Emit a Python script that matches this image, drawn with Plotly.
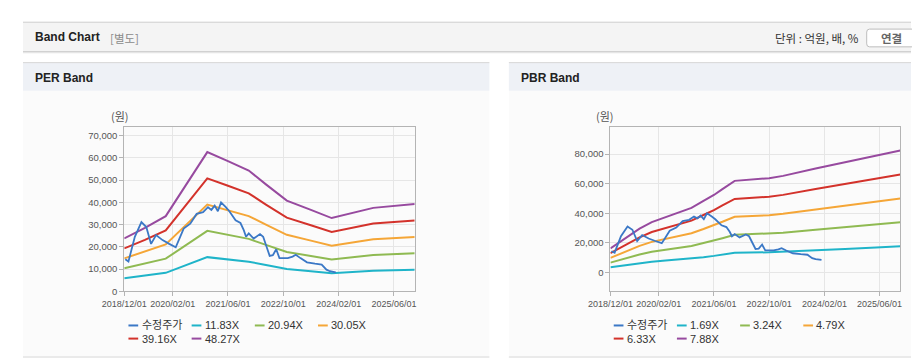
import plotly.graph_objects as go

# ---------------- data ----------------
price_name = "수정주가"
price_dates = ["2018-12-10", "2019-01-07", "2019-03-04", "2019-05-01", "2019-06-13", "2019-07-25",
               "2019-09-07", "2019-11-03", "2020-01-01", "2020-02-27", "2020-03-25", "2020-05-07",
               "2020-07-04", "2020-08-29", "2020-10-25", "2020-12-07", "2021-01-06", "2021-02-04",
               "2021-03-04", "2021-04-01", "2021-05-13", "2021-06-13", "2021-08-07", "2021-09-19",
               "2021-10-18", "2021-11-07", "2021-12-01", "2022-01-13", "2022-03-10", "2022-04-07",
               "2022-05-06", "2022-06-03", "2022-07-01", "2022-07-31", "2022-08-28", "2022-11-10",
               "2022-12-22", "2023-01-19", "2023-03-01", "2023-04-28", "2023-07-07", "2023-09-04",
               "2023-10-16", "2023-11-15", "2024-01-06"]
price_values = [14400, 13400, 24500, 31100, 28900, 21300,
                25300, 23000, 21300, 19800, 23000, 28200,
                30400, 34800, 35600, 37800, 36600, 38500,
                36000, 40000, 37800, 36000, 31900, 30700,
                27500, 24500, 26000, 23700, 25700, 24500,
                20100, 15900, 16200, 18900, 14900, 14900,
                15600, 16400, 14900, 13000, 12400, 12000,
                9700, 9000, 8500]

per_dates = ["2018-12-01", "2019-06-01", "2019-12-01", "2020-12-01", "2021-06-01", "2021-12-01",
             "2022-05-01", "2022-11-01", "2023-06-01", "2023-12-01", "2024-12-01", "2025-12-01"]
per_names = ["11.83X", "20.94X", "30.05X", "39.16X", "48.27X"]
per_band_1 = [5820, 6980, 8281, 15344, 14338, 13309, 11783, 9996, 8967, 8068, 9192, 9630]
per_band_2 = [10302, 12355, 14658, 27159, 25379, 23558, 20856, 17694, 15873, 14281, 16270, 17045]
per_band_3 = [14785, 17730, 21035, 38975, 36421, 33806, 29930, 25392, 22778, 20494, 23349, 24461]
per_band_4 = [19267, 23104, 27412, 50791, 47462, 44055, 39003, 33090, 29683, 26707, 30427, 31876]
per_band_5 = [23749, 28479, 33789, 62606, 58503, 54304, 48077, 40788, 36589, 32920, 37506, 39292]

pbr_dates = ["2018-12-01", "2019-05-01", "2019-08-15", "2019-12-01", "2020-04-01", "2020-07-01",
             "2020-11-15", "2021-03-01", "2021-06-01", "2021-08-15", "2021-12-01", "2022-10-01",
             "2023-02-01", "2023-11-15", "2024-08-01", "2025-05-01", "2025-12-01"]
pbr_names = ["1.69X", "3.24X", "4.79X", "6.33X", "7.88X"]
pbr_band_1 = [3481, 5205, 6354, 7301, 8049, 8585, 9363, 10377, 11239, 12095, 13283, 13672, 14010, 15075, 15954, 16871, 17677]
pbr_band_2 = [6674, 9979, 12182, 13997, 15432, 16459, 17950, 19894, 21546, 23189, 25466, 26212, 26860, 28901, 30586, 32345, 33890]
pbr_band_3 = [9867, 14753, 18010, 20693, 22815, 24333, 26537, 29411, 31854, 34282, 37649, 38751, 39709, 42727, 45218, 47819, 50103]
pbr_band_4 = [13040, 19496, 23801, 27346, 30150, 32156, 35068, 38866, 42095, 45304, 49754, 51210, 52476, 56464, 59755, 63192, 66212]
pbr_band_5 = [16233, 24270, 29629, 34042, 37532, 40030, 43655, 48383, 52402, 56397, 61937, 63749, 65325, 70290, 74387, 78666, 82425]

tick_dates = ["2018-12-01", "2020-02-01", "2021-06-01", "2022-10-01", "2024-02-01", "2025-06-01"]
tick_labels = ["2018/12/01", "2020/02/01", "2021/06/01", "2022/10/01", "2024/02/01", "2025/06/01"]
x_range = ["2018-12-01", "2025-12-01"]

price_color = "#3b78c6"
band_colors = ["#1fb4c9", "#8fba52", "#f5a637", "#d3322b", "#974a9f"]

# ---------------- layout helpers ----------------
W, H = 912, 364
FONT = "Liberation Sans, Arial, Noto Sans CJK KR, sans-serif"
KFONT = "Noto Sans CJK KR, Liberation Sans, sans-serif"


def px(x):
    return x / W


def py(y):
    return 1 - y / H


fig = go.Figure()

per_bands = [per_band_1, per_band_2, per_band_3, per_band_4, per_band_5]
pbr_bands = [pbr_band_1, pbr_band_2, pbr_band_3, pbr_band_4, pbr_band_5]

for axes, dates, bands, names in [(("x", "y"), per_dates, per_bands, per_names),
                                  (("x2", "y2"), pbr_dates, pbr_bands, pbr_names)]:
    for vals, nm, col in zip(bands, names, band_colors):
        fig.add_trace(go.Scatter(x=dates, y=vals, name=nm, mode="lines",
                                 line=dict(color=col, width=2), xaxis=axes[0], yaxis=axes[1],
                                 showlegend=False))
    fig.add_trace(go.Scatter(x=price_dates, y=price_values, name=price_name, mode="lines",
                             line=dict(color=price_color, width=1.8), xaxis=axes[0], yaxis=axes[1],
                             showlegend=False))

ydom = [py(295.3), py(128.3)]
axis_common = dict(showgrid=True, gridcolor="#e6e6e6", gridwidth=1, showline=True,
                   linecolor="#b4b4b4", linewidth=1, mirror=True, ticks="outside", ticklen=4,
                   tickcolor="#b4b4b4", zeroline=False)
xcommon = dict(axis_common, type="date", range=x_range, tickmode="array", tickvals=tick_dates,
               ticktext=tick_labels, tickfont=dict(family=FONT, size=9, color="#555555"))
ycommon = dict(axis_common, tickformat=",d", tickfont=dict(family=FONT, size=9.5, color="#555555"))

fig.update_layout(
    width=W, height=H, autosize=False,
    margin=dict(l=0, r=0, t=0, b=0),
    paper_bgcolor="#ffffff", plot_bgcolor="#ffffff",
    showlegend=False,
    xaxis=dict(xcommon, domain=[px(104), px(402.3)], anchor="y"),
    yaxis=dict(ycommon, domain=ydom, range=[0, 74100], dtick=10000, anchor="x"),
    xaxis2=dict(xcommon, domain=[px(603.3), px(901)], anchor="y2"),
    yaxis2=dict(ycommon, domain=ydom, range=[-12670, 98670], tick0=0, dtick=20000, anchor="x2"),
)

shapes = []
annotations = []


def rect(x0, y0, x1, y1, fill, line=None):
    shapes.append(dict(type="rect", xref="paper", yref="paper", x0=px(x0), x1=px(x1),
                       y0=py(y1), y1=py(y0), fillcolor=fill, layer="below",
                       line=dict(width=0) if line is None else dict(color=line, width=1)))


def hline(x0, x1, y, color):
    shapes.append(dict(type="line", xref="paper", yref="paper", x0=px(x0), x1=px(x1),
                       y0=py(y), y1=py(y), line=dict(color=color, width=1), layer="below"))


def text(x, y, s, size=11, color="#333333", anchor="left", family=FONT):
    annotations.append(dict(xref="paper", yref="paper", x=px(x), y=py(y), text=s, showarrow=False,
                            xanchor=anchor, yanchor="middle", borderpad=0,
                            font=dict(family=family, size=size, color=color)))


# top header bar
rect(0, 22.5, 912, 52.5, "#f4f4f4")
hline(0, 912, 22.5, "#cdcdcd")
hline(0, 912, 52.5, "#c4c4c4")
hline(0, 912, 53.5, "#e2e2e2")
text(11, 38, "<b>Band Chart</b>", size=12, color="#222222")
text(88, 38.5, "[별도]", size=11.5, color="#8a8a8a", family=KFONT)
text(860, 38.5, "단위 : 억원, 배, %", size=11.5, color="#333333", anchor="right", family=KFONT)
# button
bx0, by0, bx1, by1, r = 866.5, 29.5, 930, 47.5, 3
shapes.append(dict(type="path", xref="paper", yref="paper", layer="below",
                   path=(f"M {px(bx0 + r)},{py(by0)} L {px(bx1)},{py(by0)} L {px(bx1)},{py(by1)} "
                         f"L {px(bx0 + r)},{py(by1)} Q {px(bx0)},{py(by1)} {px(bx0)},{py(by1 - r)} "
                         f"L {px(bx0)},{py(by0 + r)} Q {px(bx0)},{py(by0)} {px(bx0 + r)},{py(by0)} Z"),
                   fillcolor="#ffffff", line=dict(color="#bdbdbd", width=1)))
text(892, 38.5, "<b>연결</b>", size=11.5, color="#666666", anchor="center", family=KFONT)

# panels
for (x0, x1, title) in [(0, 479, "PER Band"), (499, 912, "PBR Band")]:
    rect(x0, 92, x1, 361.5, "#fbfbfb")
    rect(x0, 63.5, x1, 92, "#eef1f6")
    hline(x0, x1, 63.5, "#d6d6d6")
    hline(x0, x1, 362, "#d6d6d6")
    text(x0 + 11.5, 79.5, f"<b>{title}</b>", size=12, color="#222222")

# unit labels
text(99.5, 118, "(원)", size=11, color="#555555", anchor="center", family=KFONT)
text(598, 118, "(원)", size=11, color="#555555", anchor="center", family=KFONT)

# custom legends
for lx, names in [(108.3, per_names), (606.7, pbr_names)]:
    entries = [(price_name, price_color)] + list(zip(names, band_colors))
    for i, (nm, col) in enumerate(entries):
        row, colno = divmod(i, 4)
        sx = lx + colno * 64.9
        sy = 330 + row * 13.3
        shapes.append(dict(type="line", xref="paper", yref="paper", x0=px(sx), x1=px(sx + 10),
                           y0=py(sy), y1=py(sy), line=dict(color=col, width=2)))
        text(sx + 12.5, sy, nm, size=11, color="#333333")

fig.update_layout(shapes=shapes, annotations=annotations)
fig.write_html("out.html", config={"displayModeBar": False},
               post_script="document.body.style.margin='0';document.body.style.overflow='hidden';")
